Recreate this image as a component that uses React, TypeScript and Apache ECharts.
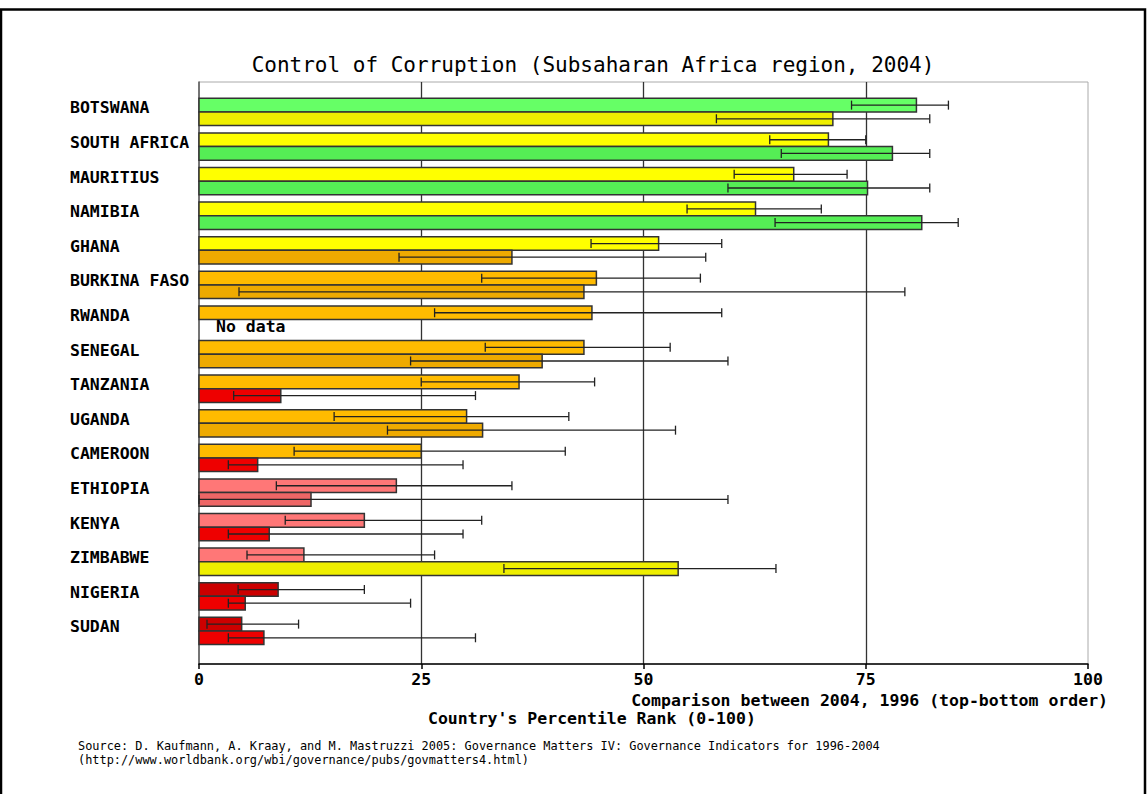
import React, { useEffect, useRef } from "react";
import * as echarts from "echarts";

const countries = [
  "BOTSWANA", "SOUTH AFRICA", "MAURITIUS", "NAMIBIA", "GHANA", "BURKINA FASO", "RWANDA", "SENEGAL",
  "TANZANIA", "UGANDA", "CAMEROON", "ETHIOPIA", "KENYA", "ZIMBABWE", "NIGERIA", "SUDAN",
];
const rank2004 = [80.7, 70.8, 66.9, 62.6, 51.7, 44.7, 44.2, 43.3, 36.0, 30.1, 25.0, 22.2, 18.6, 11.8, 8.9, 4.8];
const low2004 = [73.4, 64.2, 60.2, 54.9, 44.1, 31.8, 26.5, 32.2, 25.0, 15.2, 10.7, 8.7, 9.7, 5.4, 4.4, 0.9];
const high2004 = [84.3, 75.0, 72.9, 70.0, 58.8, 56.4, 58.8, 53.0, 44.5, 41.6, 41.2, 35.2, 31.8, 26.5, 18.6, 11.2];
const rank1996: (number | null)[] = [71.3, 78.0, 75.2, 81.3, 35.2, 43.3, null, 38.6, 9.2, 31.9, 6.6, 12.6, 7.9, 53.9, 5.2, 7.3];
const low1996: (number | null)[] = [58.2, 65.5, 59.5, 64.8, 22.5, 4.5, null, 23.8, 3.9, 21.2, 3.3, 0, 3.3, 34.3, 3.3, 3.3];
const high1996: (number | null)[] = [82.2, 82.2, 82.2, 85.4, 57.0, 79.4, null, 59.5, 31.1, 53.6, 29.7, 59.5, 29.7, 64.9, 23.8, 31.1];
const xTicks = [0, 25, 50, 75, 100];

const titleText = "Control of Corruption (Subsaharan Africa region, 2004)";
const axisNote = "Comparison between 2004, 1996 (top-bottom order)";
const axisName = "Country's Percentile Rank (0-100)";
const source1 = "Source: D. Kaufmann, A. Kraay, and M. Mastruzzi 2005: Governance Matters IV: Governance Indicators for 1996-2004";
const source2 = "(http://www.worldbank.org/wbi/governance/pubs/govmatters4.html)";
const noDataText = "No data";

const palette2004 = ["#CC0000", "#FF7777", "#FFBB00", "#FFFF00", "#66FF66"];
const palette1996 = ["#EE0000", "#EE6666", "#EEAA00", "#EEEE00", "#55EE55"];

function colorFor(v: number, yr: number) {
  const p = yr === 0 ? palette2004 : palette1996;
  if (v >= 75) return p[4];
  if (v >= 50) return p[3];
  if (v >= 25) return p[2];
  if (v >= 10) return p[1];
  return p[0];
}

const MONO = '"DejaVu Sans Mono", "Liberation Mono", monospace';

export default function App() {
  const ref = useRef<HTMLDivElement>(null);
  useEffect(() => {
    if (!ref.current) return;
    const chart = echarts.init(ref.current, undefined, { renderer: "svg" });

    const data: any[] = [];
    countries.forEach((_, i) => {
      data.push([rank2004[i], i, low2004[i], high2004[i], 0, 0]);
      const nd = rank1996[i] == null;
      data.push([nd ? 0 : rank1996[i], i, nd ? 0 : low1996[i], nd ? 0 : high1996[i], 1, nd ? 1 : 0]);
    });

    const renderItem = (params: any, api: any) => {
      const v = api.value(0);
      const cat = api.value(1);
      const lo = api.value(2);
      const hi = api.value(3);
      const yr = api.value(4);
      const nd = api.value(5);
      const c = api.coord([0, cat]);
      const band = api.size([0, 1])[1];
      const h = (band * 27.3) / 34.6 / 2;
      const y0 = c[1] - h + yr * h;
      const yc = y0 + h / 2;
      const x0 = c[0];
      if (nd) {
        return {
          type: "text",
          style: {
            text: noDataText,
            x: x0 + 17,
            y: yc,
            font: `bold 16.5px ${MONO}`,
            fill: "#000",
            align: "left",
            verticalAlign: "middle",
            textAlign: "left",
            textVerticalAlign: "middle",
          },
        };
      }
      const x1 = api.coord([v, cat])[0];
      const xl = api.coord([lo, cat])[0];
      const xh = api.coord([hi, cat])[0];
      const capH = 4.5;
      return {
        type: "group",
        children: [
          {
            type: "rect",
            shape: { x: x0, y: y0, width: x1 - x0, height: h },
            style: { fill: colorFor(v, yr), stroke: "#333", lineWidth: 1.5 },
          },
          { type: "line", shape: { x1: xl, y1: yc, x2: xh, y2: yc }, style: { stroke: "#222", lineWidth: 1.3 } },
          { type: "line", shape: { x1: xl, y1: yc - capH, x2: xl, y2: yc + capH }, style: { stroke: "#222", lineWidth: 1.3 } },
          { type: "line", shape: { x1: xh, y1: yc - capH, x2: xh, y2: yc + capH }, style: { stroke: "#222", lineWidth: 1.3 } },
        ],
      };
    };

    const textEl = (text: string, x: number, y: number, font: string, align: string) => ({
      type: "text",
      x,
      y,
      style: {
        text,
        font,
        fill: "#000",
        align,
        verticalAlign: "middle",
        textAlign: align,
        textVerticalAlign: "middle",
      },
    });

    chart.setOption({
      animation: false,
      backgroundColor: "#fff",
      grid: [
        { left: 199, top: 82, width: 889, height: 582, show: true, borderColor: "#aaa", borderWidth: 1 },
        { left: 199, top: 94.65, width: 889, height: 553.6 },
      ],
      xAxis: [
        {
          gridIndex: 0,
          type: "value",
          min: xTicks[0],
          max: xTicks[xTicks.length - 1],
          interval: 25,
          axisLine: { show: true, lineStyle: { color: "#000", width: 1.5 } },
          axisTick: { show: true, length: 5, lineStyle: { color: "#000", width: 1.5 } },
          axisLabel: { color: "#000", fontFamily: MONO, fontWeight: "bold", fontSize: 16.5, margin: 7 },
          splitLine: { show: true, showMinLine: false, showMaxLine: false, lineStyle: { color: "#333", width: 1.3 } },
        },
        {
          gridIndex: 1,
          type: "value",
          min: 0,
          max: 100,
          show: false,
          splitLine: { show: false },
        },
      ],
      yAxis: [
        {
          gridIndex: 0,
          type: "value",
          min: 0,
          max: 1,
          axisLine: { show: true, lineStyle: { color: "#555", width: 1.5 } },
          axisTick: { show: false },
          axisLabel: { show: false },
          splitLine: { show: false },
        },
        {
          gridIndex: 1,
          type: "category",
          inverse: true,
          data: countries,
          axisLine: { show: false },
          axisTick: { show: false },
          splitLine: { show: false },
          axisLabel: {
            color: "#000",
            fontFamily: MONO,
            fontWeight: "bold",
            fontSize: 16.5,
            align: "left",
            verticalAlign: "bottom",
            lineHeight: 8,
            margin: 129,
          },
        },
      ],
      series: [
        {
          type: "custom",
          xAxisIndex: 1,
          yAxisIndex: 1,
          renderItem,
          encode: { x: 0, y: 1 },
          data,
          z: 5,
        },
      ],
      graphic: [
        {
          type: "rect",
          shape: { x: 1, y: 9.5, width: 1144, height: 800 },
          style: { fill: "none", stroke: "#000", lineWidth: 2.5 },
          silent: true,
        },
        textEl(titleText, 593, 65, `21px ${MONO}`, "center"),
        textEl(axisNote, 1108, 700, `bold 16.5px ${MONO}`, "right"),
        textEl(axisName, 428, 718, `bold 16.5px ${MONO}`, "left"),
        textEl(source1, 78, 746, `11.9px ${MONO}`, "left"),
        textEl(source2, 78, 760, `11.9px ${MONO}`, "left"),
      ],
    });
    return () => chart.dispose();
  }, []);
  return (
    <div
      ref={ref}
      style={{ position: "absolute", left: 0, top: 0, width: 1147, height: 794, background: "#fff" }}
    />
  );
}
